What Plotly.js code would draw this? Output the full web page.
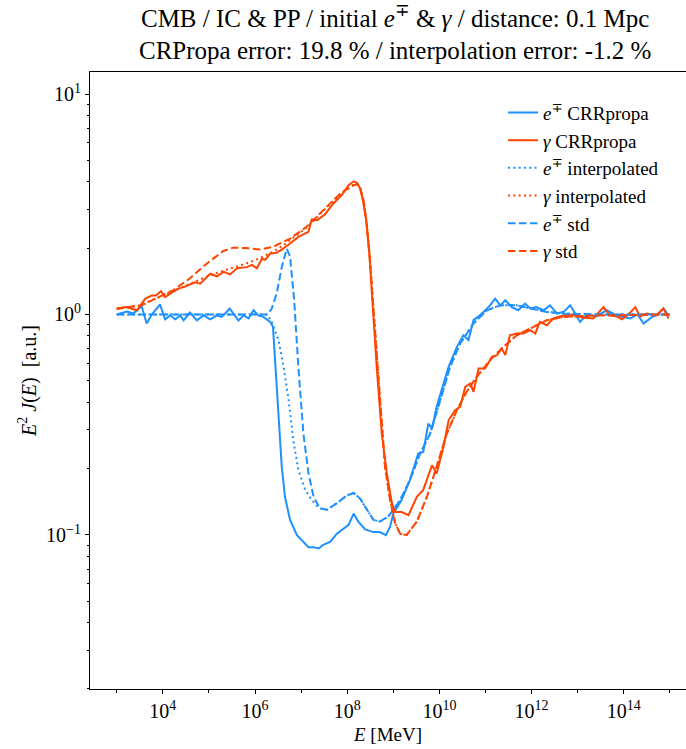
<!DOCTYPE html>
<html><head><meta charset="utf-8">
<script src="https://cdn.plot.ly/plotly-3.0.1.min.js"></script>
<style>html,body{margin:0;padding:0;background:#fff;overflow:hidden}</style>
</head><body><div id="chart" style="width:686px;height:749px"></div>
<script>
// ---- data: log10(E / MeV) and E^2 J(E) [a.u.] ----
const eCRP_logE = [3.0,3.22,3.36,3.54,3.65,3.76,3.94,4.05,4.16,4.27,4.38,4.45,4.59,4.74,4.88,5.03,5.17,5.28,5.45,5.64,5.75,5.86,5.97,6.07,6.18,6.33,6.39,6.44,6.51,6.58,6.65,6.76,6.91,7.05,7.16,7.27,7.38,7.48,7.63,7.77,7.92,8.03,8.14,8.24,8.39,8.57,8.71,8.84,8.93,9.00,9.18,9.36,9.54,9.65,9.76,9.84,9.94,10.09,10.20,10.38,10.52,10.63,10.74,10.9,11.10,11.21,11.32,11.43,11.57,11.71,11.86,11.97,12.1,12.26,12.40,12.55,12.7,12.84,13.05,13.2,13.4,13.63,13.8,13.95,14.14,14.3,14.43,14.6,14.75,14.86,14.97];
const eCRP_val = [1.0,1.03,1.01,1.09,0.91,1.0,1.11,0.95,0.99,0.952,0.99,0.94,1.02,0.94,0.99,0.95,0.99,0.975,1.065,0.94,0.99,0.96,1.045,0.99,0.975,0.925,0.879,0.578,0.343,0.204,0.149,0.117,0.0997,0.093,0.088,0.088,0.0868,0.0901,0.093,0.101,0.107,0.111,0.125,0.115,0.106,0.103,0.103,0.0998,0.109,0.125,0.144,0.177,0.234,0.238,0.320,0.304,0.381,0.486,0.578,0.713,0.805,0.765,0.942,1.0,1.10,1.18,1.10,1.16,1.08,1.045,1.12,1.065,1.08,1.045,1.10,1.01,1.03,1.10,0.925,1.0,0.98,1.045,1.0,0.98,0.959,1.0,0.91,0.97,1.0,1.065,0.99];

const gCRP_logE = [3.0,3.2,3.44,3.62,3.76,3.85,3.96,4.05,4.2,4.34,4.45,4.59,4.7,4.81,4.92,5.03,5.17,5.32,5.46,5.61,5.82,5.93,6.04,6.15,6.22,6.33,6.45,6.58,6.76,6.94,7.16,7.23,7.35,7.52,7.70,7.88,8.03,8.14,8.21,8.28,8.34,8.41,8.48,8.54,8.64,8.75,8.86,8.97,9.04,9.18,9.33,9.51,9.65,9.84,9.94,10.09,10.20,10.34,10.45,10.56,10.67,10.74,10.85,10.99,11.14,11.25,11.35,11.43,11.53,11.68,11.82,11.97,12.08,12.18,12.33,12.47,12.69,12.9,13.1,13.34,13.56,13.7,13.85,13.96,14.1,14.25,14.35,14.5,14.7,14.86,14.97];
const gCRP_val = [1.065,1.08,1.045,1.18,1.22,1.22,1.275,1.20,1.26,1.31,1.33,1.37,1.40,1.38,1.45,1.53,1.49,1.56,1.52,1.62,1.64,1.68,1.62,1.79,1.77,1.89,1.90,1.97,2.10,2.25,2.37,2.70,2.68,2.85,3.19,3.48,3.86,4.02,3.96,3.73,3.30,2.68,1.89,1.16,0.578,0.288,0.190,0.139,0.127,0.127,0.123,0.149,0.160,0.207,0.190,0.251,0.331,0.368,0.381,0.470,0.486,0.446,0.569,0.569,0.642,0.654,0.701,0.654,0.805,0.820,0.820,0.849,0.82,0.925,0.894,0.959,0.99,1.0,0.97,0.96,1.08,0.99,0.98,0.95,1.0,1.08,0.98,1.01,0.99,1.065,0.96];

const eInt_logE = [3.0,6.26,6.36,6.51,6.62,6.73,6.83,6.94,7.09,7.23,7.35,7.41,7.56,7.77,7.99,8.14,8.28,8.43,8.57,8.71,8.89,9.15,9.36,9.58,9.80,10.02,10.23,10.45,10.74,11.03,11.32,11.68,11.97,12.33,12.69,13.41,15.0];
const eInt_val = [1.0,1.0,0.93,0.764,0.578,0.409,0.269,0.197,0.160,0.144,0.135,0.132,0.130,0.139,0.151,0.155,0.146,0.130,0.117,0.115,0.121,0.144,0.177,0.234,0.288,0.409,0.578,0.738,0.91,1.045,1.10,1.10,1.065,1.027,1.01,1.0,1.0];

const gInt_logE = [3.0,3.5,4.0,4.5,5.0,5.4,5.8,6.1,6.4,6.6,6.76,7.12,7.48,7.85,8.14,8.22,8.29,8.36,8.43,8.50,8.57,8.65,8.73,8.82,8.93,9.04,9.15,9.29,9.51,9.73,9.94,10.16,10.38,10.59,10.81,11.10,11.39,11.68,11.97,12.33,12.69,13.41,15.0];
const gInt_val = [1.06,1.10,1.22,1.35,1.50,1.60,1.70,1.80,1.93,2.05,2.18,2.48,2.95,3.52,3.88,3.92,3.72,3.27,2.55,1.75,1.08,0.63,0.36,0.204,0.144,0.113,0.101,0.100,0.115,0.149,0.204,0.288,0.368,0.446,0.521,0.621,0.713,0.805,0.864,0.942,0.975,0.99,1.0];

const eStd_logE = [3.0,6.26,6.36,6.47,6.58,6.69,6.76,6.85,6.94,7.05,7.16,7.27,7.41,7.56,7.77,7.99,8.14,8.28,8.43,8.57,8.71,8.89,9.15,9.36,9.58,9.80,10.02,10.23,10.45,10.74,11.03,11.32,11.68,11.97,12.33,12.69,13.41,15.0];
const eStd_val = [1.0,1.0,1.06,1.245,1.64,1.99,1.83,1.16,0.578,0.288,0.190,0.149,0.132,0.130,0.139,0.151,0.155,0.146,0.130,0.117,0.115,0.121,0.144,0.177,0.234,0.288,0.409,0.578,0.738,0.91,1.045,1.10,1.10,1.065,1.027,1.01,1.0,1.0];

const gStd_logE = [3.0,3.54,4.23,4.59,4.95,5.31,5.53,5.82,6.11,6.40,6.76,7.12,7.48,7.85,8.14,8.22,8.29,8.36,8.43,8.50,8.57,8.65,8.73,8.82,8.93,9.04,9.15,9.29,9.51,9.73,9.94,10.16,10.38,10.59,10.81,11.10,11.39,11.68,11.97,12.33,12.69,13.41,15.0];
const gStd_val = [1.06,1.10,1.29,1.46,1.70,1.94,2.01,2.0,1.97,2.03,2.21,2.50,2.97,3.54,3.86,3.90,3.7,3.25,2.5,1.7,1.05,0.62,0.36,0.204,0.144,0.113,0.101,0.100,0.115,0.149,0.204,0.288,0.368,0.446,0.521,0.621,0.713,0.805,0.864,0.942,0.975,0.99,1.0];

const seriesNames = ['<i>e</i><sup>∓</sup> CRRpropa','<i>γ</i> CRRpropa','<i>e</i><sup>∓</sup> interpolated','<i>γ</i> interpolated','<i>e</i><sup>∓</sup> std','<i>γ</i> std'];
const xTickExp = [4,6,8,10,12,14];
const xMinorExp = [3,5,7,9,11,13,15];
const yTickExp = [-1,0,1];

// ---- drawing ----
const BLUE = '#1E90FF', RED = '#FF4500';
const pow10 = a => a.map(v => Math.pow(10, v));
const SOLID = 'solid', DOT = '2px,3.3px', DASH = '7.5px,3.5px';
function tr(lx, vy, name, color, dash){
  return {x: pow10(lx), y: vy, name: name, type:'scatter', mode:'lines',
          line:{color:color, width:2, dash:dash}, hoverinfo:'skip'};
}
const data = [
  tr(eCRP_logE, eCRP_val, seriesNames[0], BLUE, SOLID),
  tr(gCRP_logE, gCRP_val, seriesNames[1], RED, SOLID),
  tr(eInt_logE, eInt_val, seriesNames[2], BLUE, DOT),
  tr(gInt_logE, gInt_val, seriesNames[3], RED, DOT),
  tr(eStd_logE, eStd_val, seriesNames[4], BLUE, DASH),
  tr(gStd_logE, gStd_val, seriesNames[5], RED, DASH)
];
const yMinor = [];
[-2,-1,0,1].forEach(d => { for (let m=2;m<=9;m++) yMinor.push(m*Math.pow(10,d)); });

const FONT = '"Liberation Serif", "DejaVu Serif", serif';
const layout = {
  width:686, height:749,
  margin:{l:90, r:0, t:72, b:60},
  paper_bgcolor:'#fff', plot_bgcolor:'#fff',
  font:{family:FONT, color:'#000', size:19},
  title:{text:'CMB / IC &amp; PP / initial <i>e</i><sup>∓</sup> &amp; <i>γ</i> / distance: 0.1 Mpc<br>CRPropa error: 19.8 % / interpolation error: -1.2 %',
         x:0.512, xref:'paper', xanchor:'center', y:0.964, yref:'container', yanchor:'top',
         font:{family:FONT, size:25, color:'#000'}},
  showlegend:true,
  legend:{x:0.693, y:0.965, xanchor:'left', yanchor:'top', bgcolor:'rgba(0,0,0,0)', borderwidth:0,
          font:{family:FONT, size:19, color:'#000'}},
  xaxis:{type:'log', range:[2.42, 15.35], showgrid:false, zeroline:false,
         showline:true, linecolor:'#000', linewidth:1, mirror:true,
         ticks:'outside', ticklen:4, tickcolor:'#000', tickwidth:1,
         tickmode:'array', tickvals:xTickExp.map(e=>Math.pow(10,e)),
         ticktext:xTickExp.map(e=>'10<sup>'+e+'</sup>'),
         tickfont:{family:FONT, size:20, color:'#000'},
         minor:{tickmode:'array', tickvals:xMinorExp.map(e=>Math.pow(10,e)), ticks:'outside', ticklen:2.5, tickcolor:'#000', showgrid:false},
         title:{text:'<i>E</i> [MeV]', font:{family:FONT, size:19, color:'#000'}, standoff:6}},
  yaxis:{type:'log', range:[-1.699, 1.10], showgrid:false, zeroline:false,
         showline:true, linecolor:'#000', linewidth:1, mirror:false,
         ticks:'outside', ticklen:4, tickcolor:'#000', tickwidth:1,
         tickmode:'array', tickvals:yTickExp.map(e=>Math.pow(10,e)),
         ticktext:yTickExp.map(e=>'10<sup>'+(e<0?'−'+(-e):e)+'</sup>'),
         tickfont:{family:FONT, size:20, color:'#000'},
         minor:{tickmode:'array', tickvals:yMinor, ticks:'outside', ticklen:2.5, tickcolor:'#000', showgrid:false},
         title:{text:'<i>E</i><sup>2</sup> <i>J</i>(<i>E</i>)  [a.u.]', font:{family:FONT, size:20, color:'#000'}, standoff:4}}
};
Plotly.newPlot('chart', data, layout, {displayModeBar:false, staticPlot:true});
</script></body></html>
